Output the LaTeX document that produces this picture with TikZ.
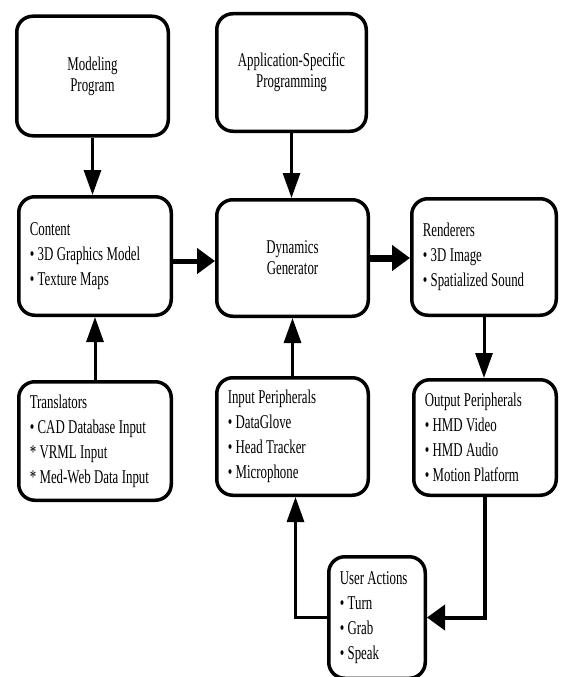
\documentclass[tikz,border=0pt]{standalone}
\usepackage{fontspec}
\setmainfont[FakeStretch=0.66]{Liberation Serif}
\usetikzlibrary{arrows.meta}
\newcommand{\boxfont}{\fontsize{19.5pt}{25pt}\selectfont}
\newcommand{\tightfont}{\fontsize{19.5pt}{21pt}\selectfont}

\begin{document}
\begin{tikzpicture}[x=1pt, y=-1pt,
   box/.style={draw, line width=3.5pt, rounded corners=16pt, inner xsep=11pt,
      inner ysep=0pt, align=left, font=\boxfont,
      execute at begin node={\spaceskip=3.4pt plus 1pt minus 0.5pt\relax}},
   midbox/.style={box, align=center, font=\tightfont},
   vhead/.style={-{Triangle[length=25pt, width=17pt]}, line width=3pt},
   hhead/.style={-{Triangle[length=18pt, width=25pt]}}]

   \useasboundingbox (0,0) rectangle (560,677);

   \node[midbox, text width=129.5pt, minimum height=119.5pt] (model) at (92.5,76) {Modeling\\Program};
   \node[midbox, text width=127.5pt, minimum height=117.5pt] (app) at (291.5,72.5) {Application-Specific\\Programming};

   \node[box, text width=130.5pt, minimum height=118.5pt] (content) at (95,256) {Content\\• 3D Graphics Model\\• Texture Maps};
   \node[midbox, text width=129.5pt, minimum height=116.5pt] (dyn) at (292.5,258) {Dynamics\\Generator};
   \node[box, text width=122.5pt, minimum height=116.5pt] (rend) at (484,257) {Renderers\\• 3D Image\\• Spatialized Sound};

   \node[box, text width=130.5pt, minimum height=118.5pt] (trans) at (95,441) {Translators\\• CAD Database Input\\{*} VRML Input\\{*} Med-Web Data Input};
   \node[box, text width=129.5pt, minimum height=117.5pt] (input) at (292.5,436.5) {Input Peripherals\\• DataGlove\\• Head Tracker\\• Microphone};
   \node[box, text width=120.5pt, minimum height=115.5pt] (output) at (485,437.5) {Output Peripherals\\• HMD Video\\• HMD Audio\\• Motion Platform};

   \node[box, text width=74.5pt, minimum height=121.5pt] (user) at (377,617.5) {User Actions\\• Turn\\• Grab\\• Speak};

   \draw[vhead] (model.south) -- (model.south |- content.north);
   \draw[vhead] (app.south) -- (app.south |- dyn.north);
   \draw[hhead, line width=5pt] ([yshift=-5pt]content.east) -- ([yshift=-5pt]content.east -| dyn.west);
   \draw[hhead, line width=7pt] (dyn.east) -- (dyn.east -| rend.west);
   \draw[vhead] (rend.south) -- (rend.south |- output.north);
   \draw[vhead] (trans.north) -- (trans.north |- content.south);
   \draw[vhead] (input.north) -- (input.north |- dyn.south);
   \draw[hhead, line width=4pt] (output.south) |- (user.east);
   \draw[vhead] (user.west) -| ([xshift=3pt]input.south);

\end{tikzpicture}
\end{document}
